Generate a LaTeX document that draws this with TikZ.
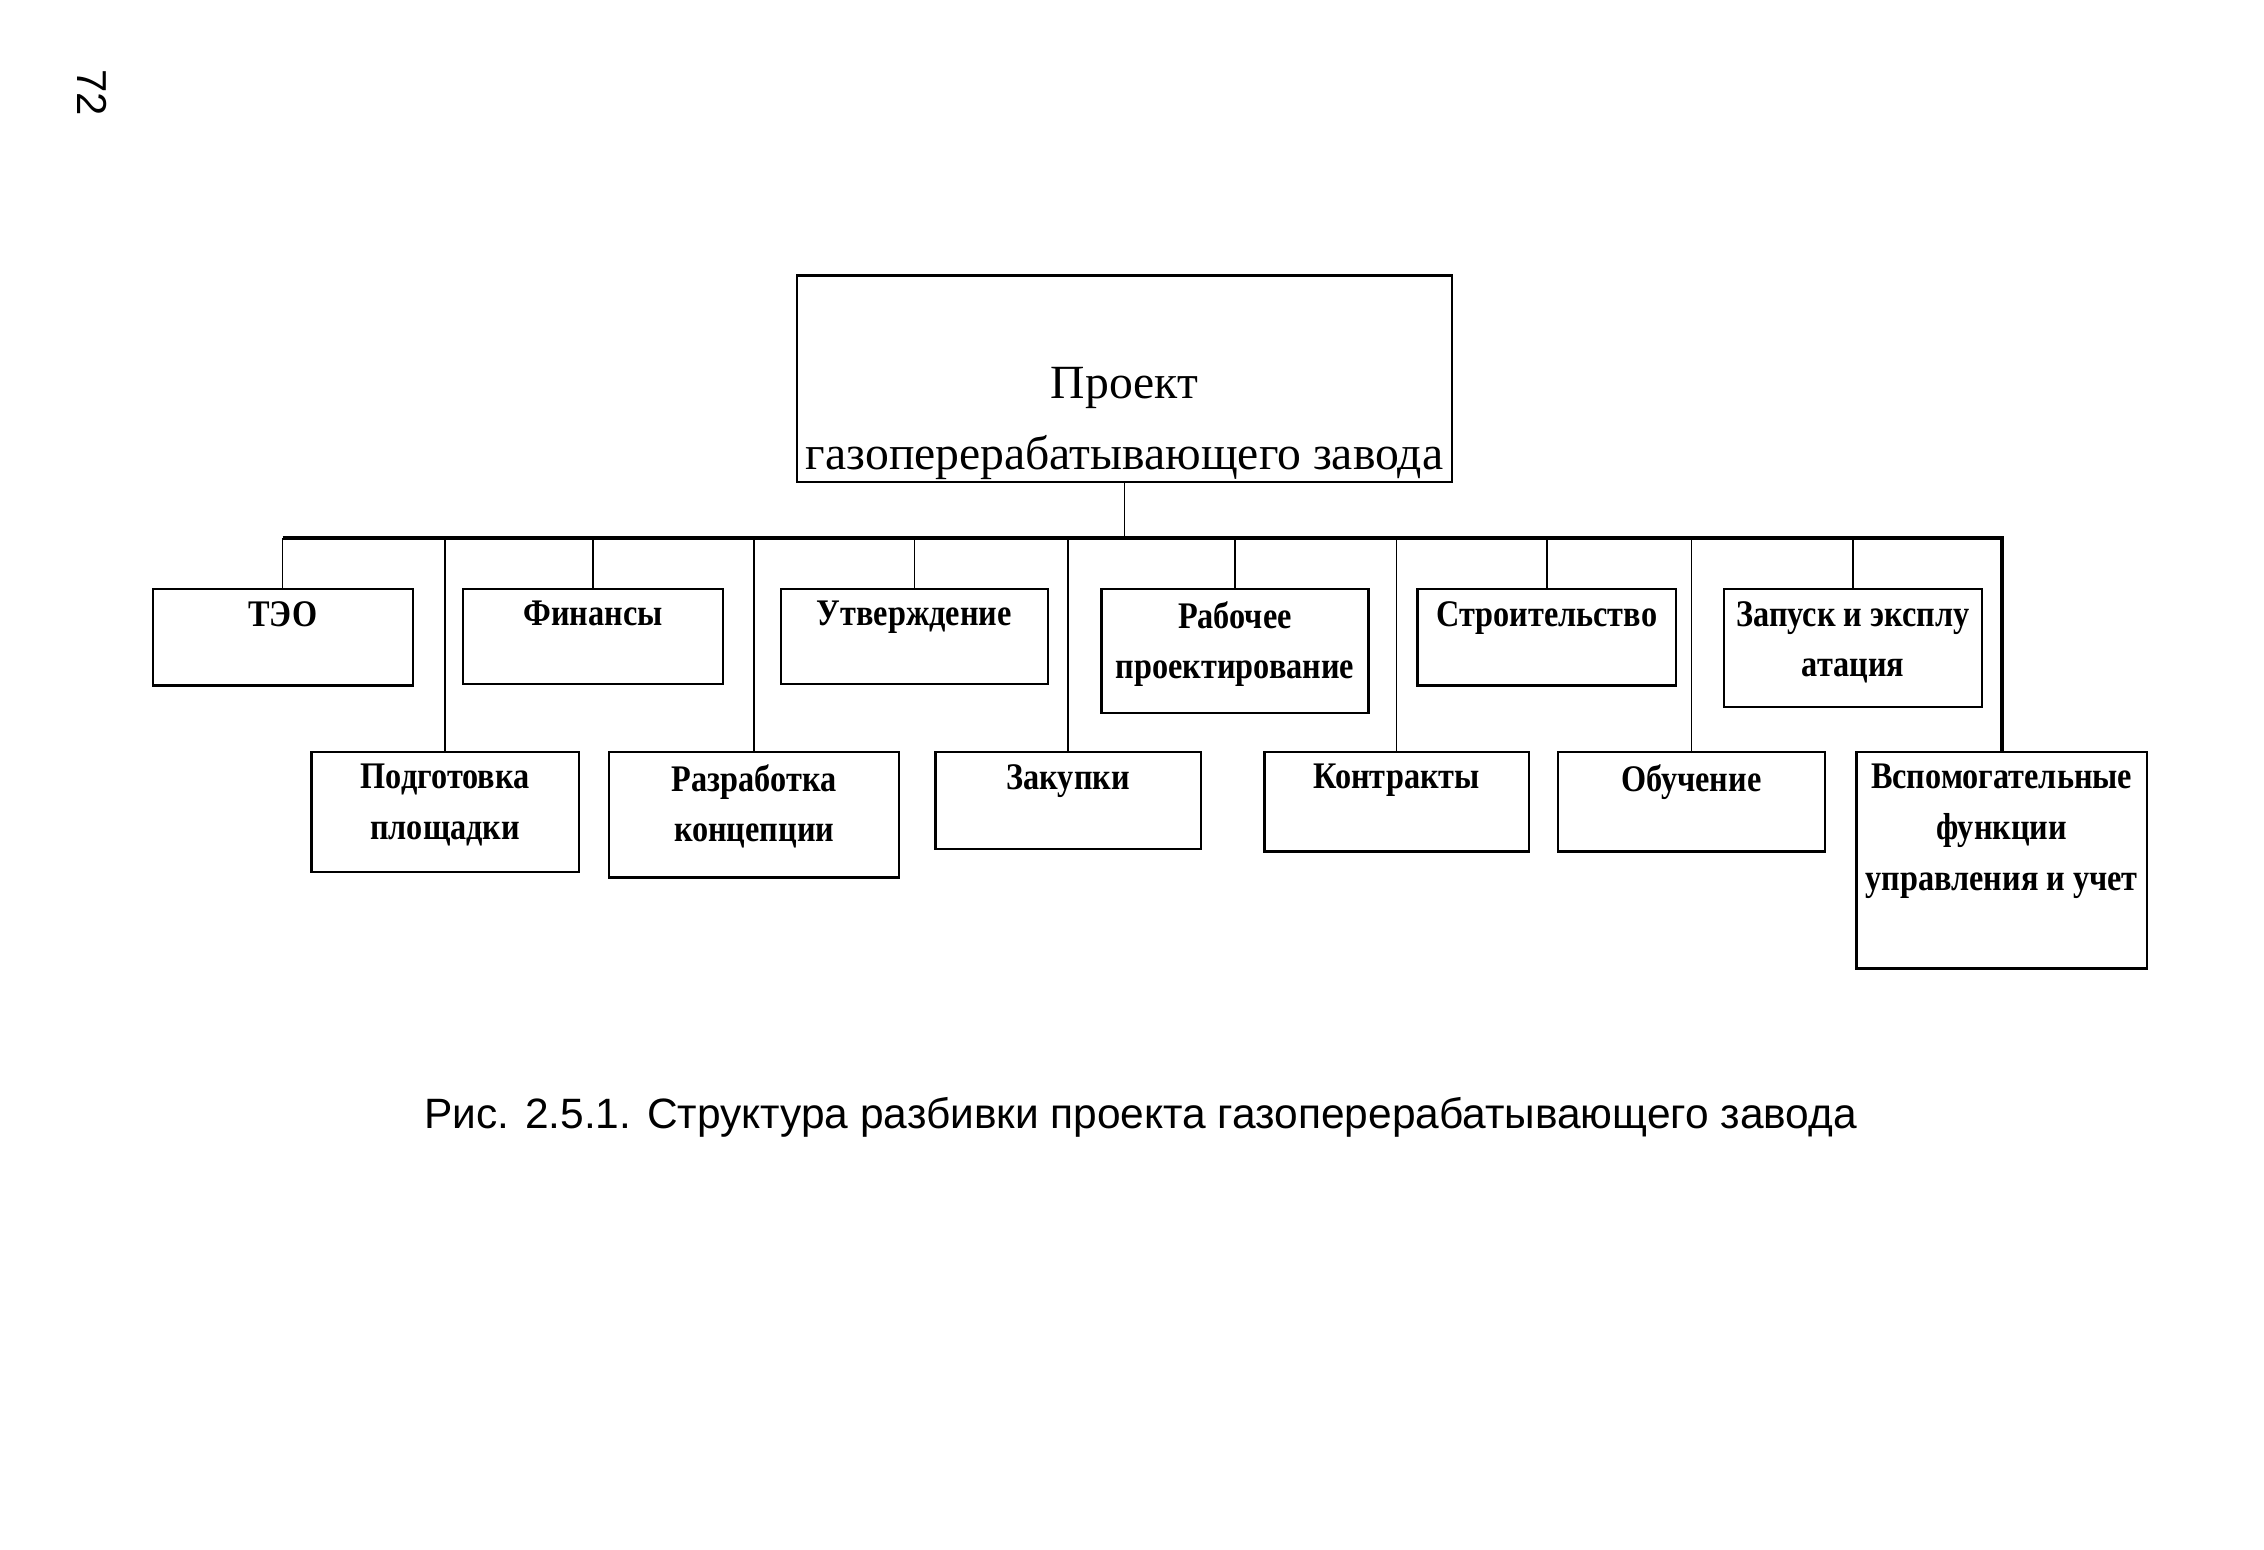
\documentclass[tikz,border=0pt]{standalone}
\usepackage{fontspec}
\setmainfont{Liberation Serif}
\newfontfamily\capfont{Liberation Sans}
\newfontfamily\boxfont[FakeStretch=0.86]{Liberation Serif}
\usetikzlibrary{positioning}

\tikzset{
  box/.style={draw, line width=0.8pt, anchor=north west, inner sep=0pt},
  lbl/.style={anchor=north, align=center, inner sep=0pt, yshift=-4.5pt,
    font=\boxfont\bfseries\fontsize{13}{17.5}\selectfont},
  rootlbl/.style={anchor=south, align=center, inner sep=0pt, yshift=1pt,
    font=\fontsize{16.5}{24.5}\selectfont},
  conn/.style={line width=0.5pt},
  busline/.style={line width=1.3pt}
}

\begin{document}
\begin{tikzpicture}[x=0.5pt, y=-0.5pt]
  \useasboundingbox (0,0) rectangle (1568,1073);

  % page number
  \node[rotate=-90, font=\capfont\fontsize{14.5}{17}\selectfont] (pnum) at (64,64) {72};

  % root
  \node[box, minimum width=227pt, minimum height=71.5pt,
    label={[rootlbl]south:Проект\\газоперерабатывающего завода}] (root) at (551,190) {};

  % upper row
  \node[box, minimum width=90pt, minimum height=33.5pt, label={[lbl]north:ТЭО}] (teo) at (105,407) {};
  \node[box, minimum width=90pt, minimum height=33pt, label={[lbl]north:Финансы}] (fin) at (320,407) {};
  \node[box, minimum width=92.5pt, minimum height=33pt, label={[lbl]north:Утверждение}] (utv) at (540,407) {};
  \node[box, minimum width=92.5pt, minimum height=43pt, label={[lbl]north:Рабочее\\проектирование}] (rab) at (762,407) {};
  \node[box, minimum width=89.5pt, minimum height=33.5pt, label={[lbl]north:Строительство}] (str) at (981,407) {};
  \node[box, minimum width=89.5pt, minimum height=41pt, label={[lbl]north:Запуск и эксплу\\атация}] (zap) at (1193,407) {};

  % lower row
  \node[box, minimum width=92.5pt, minimum height=41.5pt, label={[lbl]north:Подготовка\\площадки}] (pod) at (215,520) {};
  \node[box, minimum width=100.5pt, minimum height=43.5pt, label={[lbl]north:Разработка\\концепции}] (raz) at (421,520) {};
  \node[box, minimum width=92pt, minimum height=33.5pt, label={[lbl]north:Закупки}] (zak) at (647,520) {};
  \node[box, minimum width=91.5pt, minimum height=34.5pt, label={[lbl]north:Контракты}] (kon) at (875,520) {};
  \node[box, minimum width=92.5pt, minimum height=34.5pt, label={[lbl]north:Обучение}] (obu) at (1078,520) {};
  \node[box, minimum width=100.5pt, minimum height=75pt, label={[lbl]north:Вспомогательные\\функции\\управления и учет}] (vsp) at (1285,520) {};

  % bus
  \coordinate (bus) at (795,372.6);
  \draw[conn] (root.south) -- (root.south |- bus);
  \draw[busline] (teo.north |- bus) -- (vsp.north |- bus) -- (vsp.north);
  \foreach \n in {teo,fin,utv,rab,str,zap,pod,raz,zak,kon,obu}
    \draw[conn] (\n.north) -- (\n.north |- bus);

  % caption
  \node[font=\capfont\fontsize{14.7}{17}\selectfont] (cap) at (790,774)
    {Рис. 2.5.1. Структура разбивки проекта газоперерабатывающего завода};
\end{tikzpicture}
\end{document}
